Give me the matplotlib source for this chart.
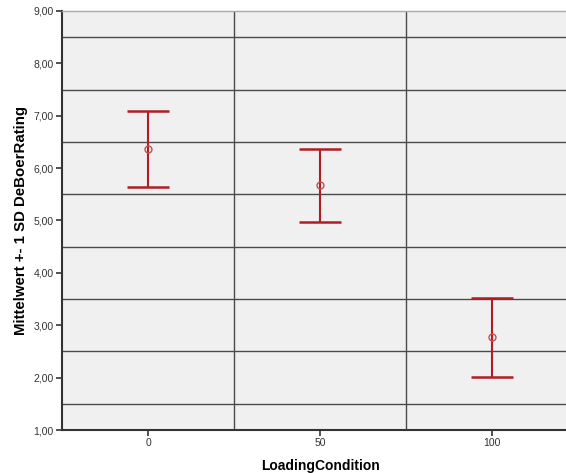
import matplotlib
matplotlib.use('Agg')
import numpy as np
from matplotlib import pyplot as plt
from matplotlib.ticker import FuncFormatter

# values
conditions = [0, 50, 100]
means = [6.37, 5.67, 2.77]
sds = [0.73, 0.70, 0.75]
y_ticks = [1, 2, 3, 4, 5, 6, 7, 8, 9]
h_grid = [1.5, 2.5, 3.5, 4.5, 5.5, 6.5, 7.5, 8.5]
v_grid = [25, 75]

plt.rcParams['font.family'] = ['Liberation Sans', 'DejaVu Sans']

fig = plt.figure(figsize=(5.66, 4.73), dpi=100)
ax = fig.add_axes([62 / 566, 1 - 430 / 473, 516 / 566, 419 / 473])
ax.set_facecolor('#f0f0f0')

for y in h_grid:
    ax.axhline(y, color='#4a4a4a', lw=1.0, zorder=1)
for x in v_grid:
    ax.axvline(x, color='#4a4a4a', lw=1.0, zorder=1)

ax.errorbar(conditions, means, yerr=sds, fmt='none', ecolor='#b01e23',
            elinewidth=1.5, capsize=15, capthick=1.8, zorder=3)
ax.plot(conditions, means, 'o', mfc='none', mec='#c0504d', ms=5, mew=1.0, zorder=4)

ax.set_xlim(-25, 125)
ax.set_ylim(1, 9)
ax.set_xticks(conditions)
ax.set_yticks(y_ticks)
ax.yaxis.set_major_formatter(FuncFormatter(lambda v, p: ('%.2f' % v).replace('.', ',')))
ax.tick_params(axis='both', labelsize=7.5, colors='#333333', length=4, width=1.2,
               direction='out', pad=2)

for side in ['left', 'bottom']:
    ax.spines[side].set_color('#333333')
    ax.spines[side].set_linewidth(1.5)
ax.spines['top'].set_color('#aaaaaa')
ax.spines['top'].set_linewidth(1.0)
ax.spines['right'].set_visible(False)

ax.set_xlabel('LoadingCondition', fontsize=10, fontweight='bold', labelpad=8)
ax.set_ylabel('Mittelwert +- 1 SD DeBoerRating', fontsize=10.8, fontweight='bold', labelpad=4)

fig.savefig('out.png', dpi=100)
